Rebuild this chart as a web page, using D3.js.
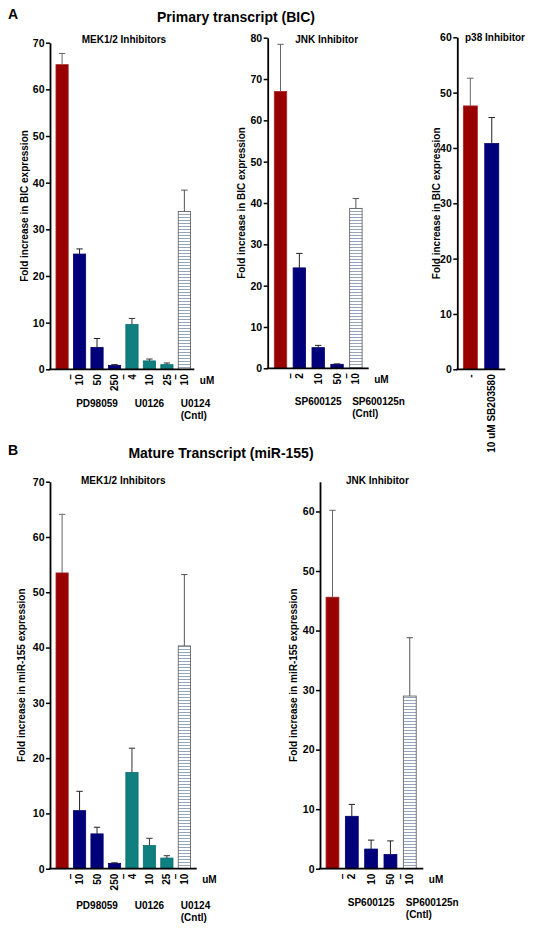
<!DOCTYPE html>
<html><head><meta charset="utf-8">
<script src="https://cdn.jsdelivr.net/npm/d3@7"></script>
<style>
body{margin:0;background:#fff}
text{font-family:Arial,"Liberation Sans",sans-serif;font-weight:bold;fill:#000}
</style>
</head><body>
<svg id="c" width="534" height="929"></svg>
<script>
// ---------- data ----------
const aMekLabels = ["", "10", "50", "250", "4", "10", "25", "10"];
const aMekKinds  = ["ctrl","pd","pd","pd","u","u","u","neg"];
const aMekValues = [65.3, 24.7, 4.7, 0.85, 9.6, 1.8, 1.0, 33.8];
const aMekErrors = [2.4, 1.1, 1.9, 0.15, 1.3, 0.4, 0.35, 4.6];

const aJnkLabels = ["", "2", "10", "50", "10"];
const aJnkKinds  = ["ctrl","pd","pd","pd","neg"];
const aJnkValues = [67.0, 24.3, 5.0, 0.97, 38.7];
const aJnkErrors = [11.4, 3.5, 0.55, 0.1, 2.4];

const p38Labels = ["-", "10 uM SB203580"];
const p38Kinds  = ["ctrl","pd"];
const p38Values = [47.6, 40.8];
const p38Errors = [5.0, 4.7];

const bMekValues = [53.5, 10.5, 6.3, 0.97, 17.4, 4.2, 1.93, 40.3];
const bMekErrors = [10.6, 3.5, 1.2, 0.1, 4.4, 1.3, 0.42, 12.9];

const bJnkValues = [45.6, 8.8, 3.3, 2.37, 29.0];
const bJnkErrors = [14.6, 2.0, 1.5, 2.3, 9.8];

const mekGroups = [{name:"PD98059", from:1, to:3}, {name:"U0126", from:4, to:6}];
const mekCtrl = ["U0124", "(Cntl)"];
const jnkGroups = [{name:"SP600125", from:1, to:3}];
const jnkCtrl = ["SP600125n", "(Cntl)"];

// ---------- styles ----------
const svg = d3.select("#c");
const defs = svg.append("defs");
const pat = defs.append("pattern").attr("id","hatch").attr("patternUnits","userSpaceOnUse")
  .attr("width",4).attr("height",3);
pat.append("rect").attr("width",4).attr("height",3).attr("fill","#fff");
pat.append("line").attr("x1",0).attr("x2",4).attr("y1",1.5).attr("y2",1.5)
  .attr("stroke","#8a9ab8").attr("stroke-width",0.9);

const fills = {ctrl:"#990000", pd:"#00007a", u:"#0f7f7f", neg:"url(#hatch)"};
const strokes = {ctrl:"#a52a2a", pd:"#00006a", u:"#0a6f6f", neg:"#555"};
const errColor = {ctrl:"#666", pd:"#222", u:"#333", neg:"#555"};

function drawPanel(p) {
  const g = svg.append("g");
  const n = p.values.length;
  const x = d3.scaleBand().domain(d3.range(n)).range([p.x0, p.x1])
    .paddingInner(p.pi).paddingOuter(p.po).align(p.align);
  const bw = x.bandwidth();
  const y = d3.scaleLinear().domain([0, p.max]).range([p.yb, p.yt]);

  // bars
  g.selectAll("rect.bar").data(p.values).join("rect").attr("class","bar")
    .attr("x",(d,i)=>x(i)).attr("y",d=>y(d))
    .attr("width",bw).attr("height",d=>y(0)-y(d))
    .attr("fill",(d,i)=>fills[p.kinds[i]])
    .attr("stroke",(d,i)=>strokes[p.kinds[i]]).attr("stroke-width",0.8);

  // error bars (upper only)
  const eb = g.selectAll("g.err").data(p.values).join("g").attr("class","err");
  eb.append("line")
    .attr("x1",(d,i)=>x(i)+bw/2).attr("x2",(d,i)=>x(i)+bw/2)
    .attr("y1",d=>y(d)).attr("y2",(d,i)=>y(d+p.errors[i]))
    .attr("stroke",(d,i)=>errColor[p.kinds[i]]).attr("stroke-width",1);
  eb.append("line")
    .attr("x1",(d,i)=>x(i)+bw/2-3.2).attr("x2",(d,i)=>x(i)+bw/2+3.2)
    .attr("y1",(d,i)=>y(d+p.errors[i])).attr("y2",(d,i)=>y(d+p.errors[i]))
    .attr("stroke",(d,i)=>errColor[p.kinds[i]]).attr("stroke-width",1);

  // y axis
  const ax = d3.axisLeft(y).tickValues(d3.range(0, p.tickMax + 1, 10))
    .tickSize(4).tickPadding(1.5).tickSizeOuter(0);
  const ga = g.append("g").attr("transform",`translate(${p.x0},0)`).call(ax);
  ga.select(".domain").attr("stroke","#000").attr("stroke-width",1.8);
  ga.selectAll(".tick line").attr("stroke","#000").attr("stroke-width",1.5);
  ga.selectAll(".tick text").attr("font-size",10.5);

  // x axis line
  g.append("line").attr("x1",p.x0-0.9).attr("x2",p.x1).attr("y1",y(0)).attr("y2",y(0))
    .attr("stroke","#000").attr("stroke-width",1.8);

  // rotated category labels
  p.labels.forEach((l,i)=>{
    if (!l) return;
    g.append("text").attr("transform",`translate(${x(i)+bw/2},${y(0)+5}) rotate(-90)`)
      .attr("text-anchor","end").attr("dy","0.36em").attr("font-size",10).text(l);
  });
  // separators between groups
  (p.seps||[]).forEach(i=>{
    const sx = x(i) + bw + (x.step()-bw)/2;
    g.append("text").attr("transform",`translate(${sx},${y(0)+5}) rotate(-90)`)
      .attr("text-anchor","end").attr("dy","0.36em").attr("font-size",10).text("\u2013");
  });
  if (p.unit) g.append("text").attr("x",p.x1+5.5).attr("y",y(0)+14.5)
    .attr("font-size",10).text(p.unit);

  // group labels
  (p.groups||[]).forEach(gr=>{
    const cx = (x(gr.from) + x(gr.to) + bw)/2;
    g.append("text").attr("x",cx).attr("y",y(0)+p.gy).attr("text-anchor","middle")
      .attr("font-size",10).text(gr.name);
  });
  if (p.ctrl) p.ctrl.forEach((t,k)=>{
    g.append("text").attr("x",x(n-1)+2.5).attr("y",y(0)+p.gy+k*12)
      .attr("font-size",10).text(t);
  });

  // panel title
  g.append("text").attr("x",p.tx).attr("y",p.ty).attr("font-size",10).text(p.title);
  // y label
  g.append("text").attr("transform",`translate(${p.lx},${(p.yt+p.yb)/2}) rotate(-90)`)
    .attr("text-anchor","middle").attr("dy","0.36em").attr("font-size",10).text(p.ylabel);
}

// ---------- panels ----------
drawPanel({x0:50, x1:194.3, pi:0.3, po:0.28, align:0.61, yb:369.3, yt:42.7, max:70, tickMax:70,
  values:aMekValues, errors:aMekErrors, kinds:aMekKinds, labels:aMekLabels, seps:[0,3,6], unit:"uM",
  groups:mekGroups, ctrl:mekCtrl, gy:38, tx:81.7, ty:43, title:"MEK1/2 Inhibitors",
  lx:24, ylabel:"Fold increase in BIC expression"});

drawPanel({x0:267.7, x1:368.7, pi:0.34, po:0.35, align:0.5, yb:368.3, yt:37.7, max:80, tickMax:80,
  values:aJnkValues, errors:aJnkErrors, kinds:aJnkKinds, labels:aJnkLabels, seps:[0,3], unit:"uM",
  groups:jnkGroups, ctrl:jnkCtrl, gy:37, tx:295.3, ty:42.5, title:"JNK Inhibitor",
  lx:241, ylabel:"Fold increase in BIC expression"});

drawPanel({x0:457.3, x1:505.3, pi:0.346, po:0.294, align:0.48, yb:369.3, yt:37.3, max:60, tickMax:60,
  values:p38Values, errors:p38Errors, kinds:p38Kinds, labels:p38Labels, seps:[], unit:null,
  groups:[], ctrl:null, gy:0, tx:465, ty:40.5, title:"p38 Inhibitor",
  lx:436, ylabel:"Fold increase in BIC expression"});

drawPanel({x0:50, x1:196.7, pi:0.3, po:0.35, align:0.49, yb:868.7, yt:481.7, max:70, tickMax:70,
  values:bMekValues, errors:bMekErrors, kinds:aMekKinds, labels:aMekLabels, seps:[0,3,6], unit:"uM",
  groups:mekGroups, ctrl:mekCtrl, gy:40, tx:81, ty:484, title:"MEK1/2 Inhibitors",
  lx:21.7, ylabel:"Fold increase in miR-155 expression"});

drawPanel({x0:320, x1:423.3, pi:0.333, po:0.34, align:0.46, yb:868.7, yt:481.7, max:65, tickMax:60,
  values:bJnkValues, errors:bJnkErrors, kinds:aJnkKinds, labels:aJnkLabels, seps:[0,3], unit:"uM",
  groups:jnkGroups, ctrl:jnkCtrl, gy:37, tx:346, ty:483.5, title:"JNK Inhibitor",
  lx:293, ylabel:"Fold increase in miR-155 expression"});

// ---------- figure titles ----------
svg.append("text").attr("x",8).attr("y",19).attr("font-size",14).text("A");
svg.append("text").attr("x",236).attr("y",21.5).attr("text-anchor","middle").attr("font-size",14)
  .text("Primary transcript (BIC)");
svg.append("text").attr("x",8).attr("y",455).attr("font-size",14).text("B");
svg.append("text").attr("x",221).attr("y",458).attr("text-anchor","middle").attr("font-size",14)
  .text("Mature Transcript (miR-155)");
</script>
</body></html>
